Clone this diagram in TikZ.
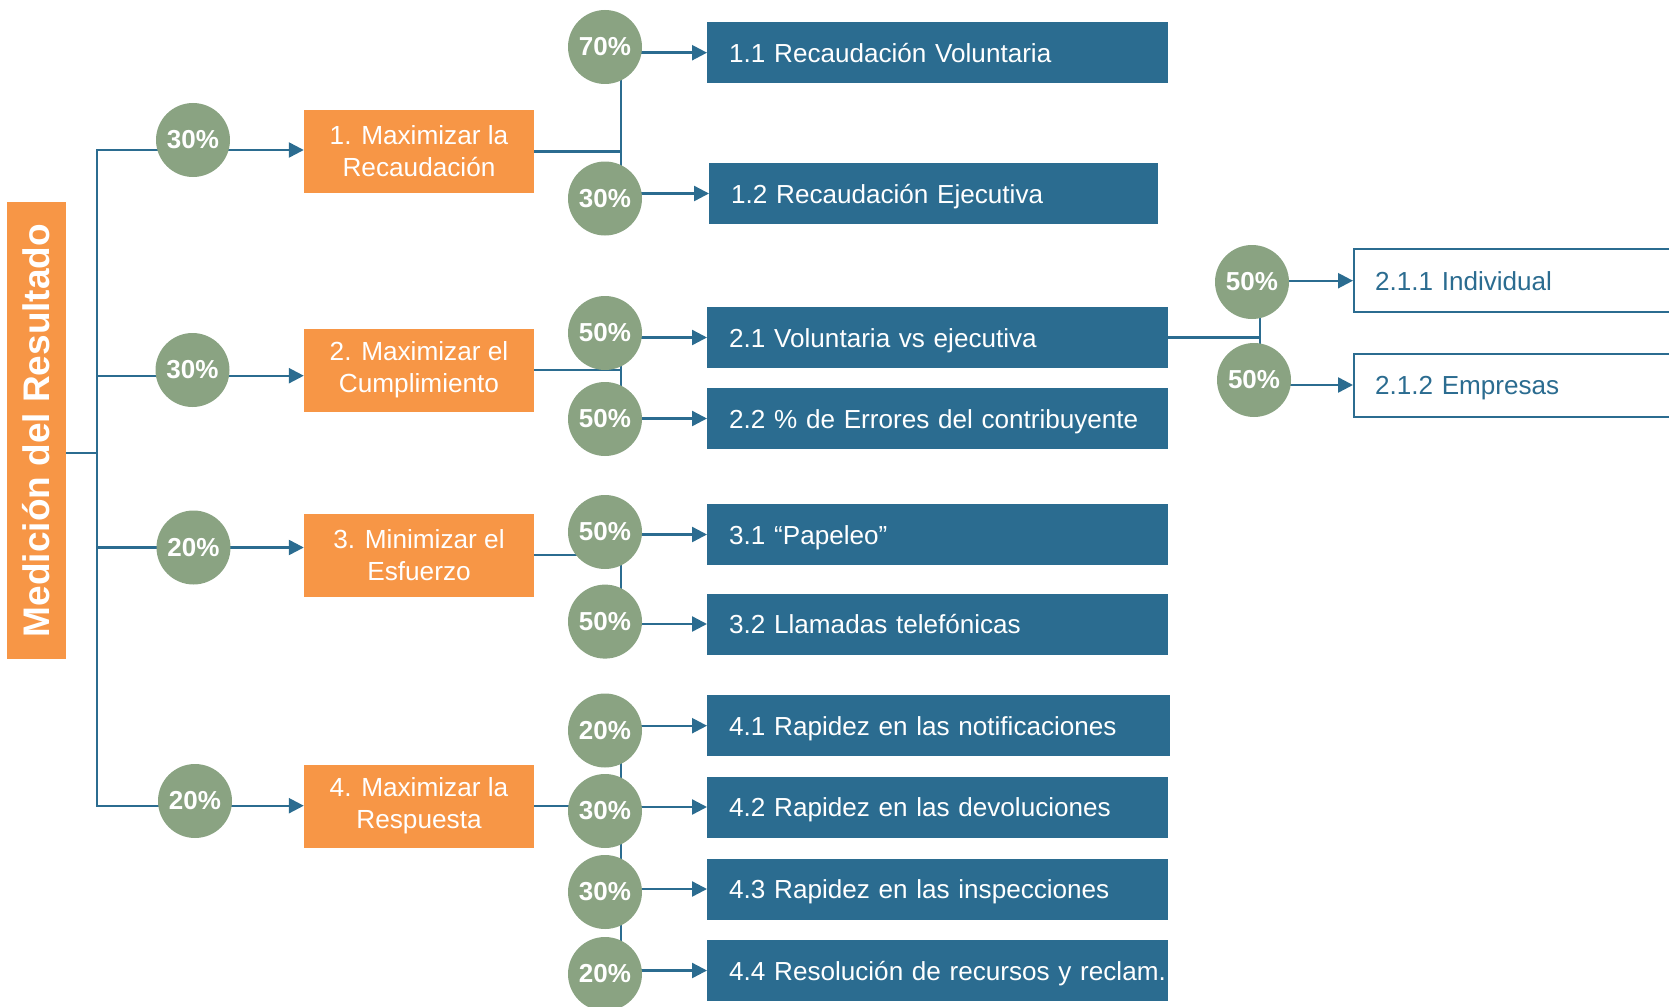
\documentclass[tikz,border=0pt]{standalone}
\usepackage{fontspec}
\setmainfont{Liberation Sans}
\usetikzlibrary{arrows.meta,backgrounds}
\definecolor{org}{HTML}{F79646}
\definecolor{blu}{HTML}{2B6C90}
\definecolor{grn}{HTML}{8AA382}
\begin{document}
\begin{tikzpicture}[x=1pt,y=-1pt,
  circ/.style={circle,fill=grn,minimum size=74pt,inner sep=0pt,text=white,font=\bfseries\fontsize{26}{30}\selectfont},
  obox/.style={fill=org,text=white,align=center,minimum width=230pt,minimum height=83pt,inner sep=0pt,font=\fontsize{26.2}{32}\selectfont},
  bbox/.style={fill=blu,text=white,anchor=west,minimum height=61pt,inner xsep=22pt,inner ysep=0pt,text width=417pt,text height=23pt,text depth=4pt,align=left,font=\fontsize{26.1}{32}\selectfont},
  wbox/.style={draw=blu,line width=2pt,fill=white,text=blu,anchor=west,minimum height=63pt,inner xsep=21pt,inner ysep=0pt,text width=330pt,text height=23pt,text depth=4pt,align=left,font=\fontsize{26.1}{32}\selectfont},
  tbox/.style={fill=org,minimum width=59pt,minimum height=457pt,inner sep=0pt},
  ttext/.style={rotate=90,text=white,font=\bfseries\fontsize{37}{40}\selectfont},
  conn/.style={draw=blu,line width=2.4pt},
  arr/.style={conn,-{Triangle[length=15pt,width=15pt]}}
]
\useasboundingbox (0,0) rectangle (1669,1006);

% title
\node[tbox] (title) at (36.5,430.5) {};
\node[ttext] (titletext) at (title.center) {Medición del Resultado};

% level 1 boxes
\node[obox] (o1) at (419,151.5) {1. Maximizar la\\Recaudación};
\node[obox] (o2) at (419,370) {2. Maximizar el\\Cumplimiento};
\node[obox] (o3) at (419,555) {3. Minimizar el\\Esfuerzo};
\node[obox] (o4) at (419,806) {4. Maximizar la\\Respuesta};

% level 1 circles
\node[circ] (p1) at (193,140) {30\%};
\node[circ] (p2) at (192.5,370) {30\%};
\node[circ] (p3) at (193.5,547.5) {20\%};
\node[circ] (p4) at (195,801) {20\%};

% level 2 boxes
\node[bbox] (b11) at (707,52.7) {\mbox{1.1 Recaudación Voluntaria}};
\node[bbox,text width=405pt] (b12) at (709,193.5) {\mbox{1.2 Recaudación Ejecutiva}};
\node[bbox] (b21) at (707,337.5) {\mbox{2.1 Voluntaria vs ejecutiva}};
\node[bbox] (b22) at (707,418.5) {\mbox{2.2 \% de Errores del contribuyente}};
\node[bbox] (b31) at (707,534.5) {\mbox{3.1 “Papeleo”}};
\node[bbox] (b32) at (707,624) {\mbox{3.2 Llamadas telefónicas}};
\node[bbox,text width=419pt] (b41) at (707,725.7) {\mbox{4.1 Rapidez en las notificaciones}};
\node[bbox] (b42) at (707,807) {\mbox{4.2 Rapidez en las devoluciones}};
\node[bbox] (b43) at (707,889) {\mbox{4.3 Rapidez en las inspecciones}};
\node[bbox] (b44) at (707,970.5) {\mbox{4.4 Resolución de recursos y reclam.}};

% level 2 circles
\node[circ] (q11) at (605,47) {70\%};
\node[circ] (q12) at (605,198.5) {30\%};
\node[circ] (q21) at (605,333) {50\%};
\node[circ] (q22) at (605,419) {50\%};
\node[circ] (q31) at (605,532) {50\%};
\node[circ] (q32) at (605,621.6) {50\%};
\node[circ] (q41) at (605,730.5) {20\%};
\node[circ] (q42) at (605,811) {30\%};
\node[circ] (q43) at (605,892) {30\%};
\node[circ] (q44) at (605,974) {20\%};

% level 3 boxes and circles
\node[wbox] (b211) at (1353,280.7) {\mbox{2.1.1 Individual}};
\node[wbox] (b212) at (1353,385) {\mbox{2.1.2 Empresas}};
\node[circ] (r1) at (1252,282) {50\%};
\node[circ] (r2) at (1254,380) {50\%};

% junction coordinates
\coordinate (tr1) at (97,150);
\coordinate (tr2) at (97,375.7);
\coordinate (tr3) at (97,547.5);
\coordinate (tr4) at (97,805.7);
\coordinate (trj) at (97,453);
\coordinate (vx) at (621,0);
\coordinate (vy) at (1260,0);

\begin{scope}[on background layer]
  % trunk
  \draw[conn,line cap=rect] (tr1) -- (tr4);
  \draw[conn] (title.east |- trj) -- (trj);
  \draw[arr] (tr1) -- (tr1 -| o1.west);
  \draw[arr] (tr2) -- (tr2 -| o2.west);
  \draw[arr] (tr3) -- (tr3 -| o3.west);
  \draw[arr] (tr4) -- (tr4 -| o4.west);
  % group 1
  \draw[conn] (b11.west -| vx) -- (b12.west -| vx);
  \draw[conn] (o1.east) -- (o1.east -| vx);
  \draw[arr] (b11.west -| vx) -- (b11.west);
  \draw[arr] (b12.west -| vx) -- (b12.west);
  % group 2
  \draw[conn] (b21.west -| vx) -- (b22.west -| vx);
  \draw[conn] (o2.east) -- (o2.east -| vx);
  \draw[arr] (b21.west -| vx) -- (b21.west);
  \draw[arr] (b22.west -| vx) -- (b22.west);
  % group 3
  \draw[conn] (b31.west -| vx) -- (b32.west -| vx);
  \draw[conn] (o3.east) -- (o3.east -| vx);
  \draw[arr] (b31.west -| vx) -- (b31.west);
  \draw[arr] (b32.west -| vx) -- (b32.west);
  % group 4
  \draw[conn] (b41.west -| vx) -- (b44.west -| vx);
  \draw[conn] (o4.east) -- (o4.east -| vx);
  \draw[arr] (b41.west -| vx) -- (b41.west);
  \draw[arr] (b42.west -| vx) -- (b42.west);
  \draw[arr] (b43.west -| vx) -- (b43.west);
  \draw[arr] (b44.west -| vx) -- (b44.west);
  % group 2.1
  \draw[conn] (b211.west -| vy) -- (b212.west -| vy);
  \draw[conn] (b21.east) -- (b21.east -| vy);
  \draw[arr] (b211.west -| vy) -- (b211.west);
  \draw[arr] (b212.west -| vy) -- (b212.west);
\end{scope}
\end{tikzpicture}
\end{document}
